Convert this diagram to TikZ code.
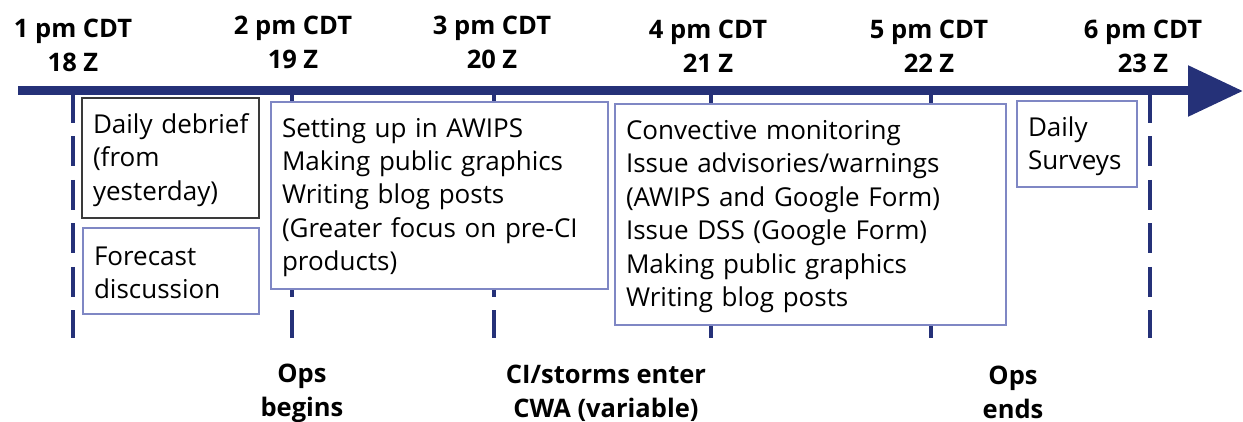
\documentclass[tikz,border=0pt]{standalone}
\usepackage{fontspec}
\setmainfont{Open Sans}
\usetikzlibrary{arrows.meta}
\definecolor{navy}{HTML}{253178}
\definecolor{boxblue}{HTML}{7F87C4}
\definecolor{boxgray}{HTML}{3A3A3A}
\begin{document}
\begin{tikzpicture}[x=0.5pt,y=-0.5pt,
  timelabel/.style={font=\fontsize{12.75}{17}\selectfont\bfseries, align=center, inner sep=0pt},
  taskbox/.style={draw=boxblue, line width=0.75pt, fill=white, align=left,
    inner xsep=5.5pt, inner ysep=0pt, font=\fontsize{13}{16.7}\selectfont,
    execute at begin node={\hyphenpenalty=10000},
    execute at end node={\endgraf\vspace*{-2pt}}},
  hourtick/.style={draw=navy, line width=2pt, dash pattern=on 15pt off 6.75pt},
  axisline/.style={draw=navy, line width=4.5pt, -{Triangle[length=27.5pt,width=24.5pt]}}]
\useasboundingbox (0,0) rectangle (1243,422);

% hour ticks
\foreach \n/\x in {18/73, 19/292, 20/494, 21/711, 22/931, 23/1150} {
  \coordinate (top\n) at (\x,93);
  \coordinate (bot\n) at (\x,338);
  \draw[hourtick] (top\n) -- (bot\n);
}

% time axis
\coordinate (axstart) at (18,91);
\coordinate (axend) at (1243,91);
\draw[axisline] (axstart) -- (axend);

% hour labels
\node[timelabel] (h18) at (73,45)  {1 pm CDT\\18 Z};
\node[timelabel] (h19) at (293,42) {2 pm CDT\\19 Z};
\node[timelabel] (h20) at (492,42) {3 pm CDT\\20 Z};
\node[timelabel] (h21) at (708,46) {4 pm CDT\\21 Z};
\node[timelabel] (h22) at (929,46) {5 pm CDT\\22 Z};
\node[timelabel] (h23) at (1143,46) {6 pm CDT\\23 Z};

% activity boxes
\node[taskbox, draw=boxgray, minimum width=88.5pt, text width=77.5pt, minimum height=60pt]
  (debrief) at (170.5,158) {\mbox{Daily debrief}\\(from\\yesterday)};
\node[taskbox, minimum width=88pt, text width=77pt, minimum height=43pt]
  (forecast) at (171,271) {Forecast\\discussion};
\node[taskbox, minimum width=168.5pt, text width=157.5pt, minimum height=93.5pt]
  (setup) at (439.5,195.5) {Setting up in AWIPS\\Making public graphics\\Writing blog posts\\(Greater focus on pre-CI\\products)};
\node[taskbox, minimum width=195.5pt, text width=184.5pt, minimum height=110.5pt]
  (convective) at (810.5,214.5) {Convective monitoring\\Issue advisories/warnings\\(AWIPS and Google Form)\\Issue DSS (Google Form)\\Making public graphics\\Writing blog posts};
\node[taskbox, minimum width=60pt, text width=49pt, minimum height=43pt]
  (surveys) at (1077,144) {Daily\\Surveys};

% event labels
\node[timelabel] (opsbegin) at (302,393) {Ops\\begins};
\node[timelabel] (cistorms) at (606,393) {CI/storms enter\\CWA (variable)};
\node[timelabel] (opsend) at (1013,392) {Ops\\ends};
\end{tikzpicture}
\end{document}
